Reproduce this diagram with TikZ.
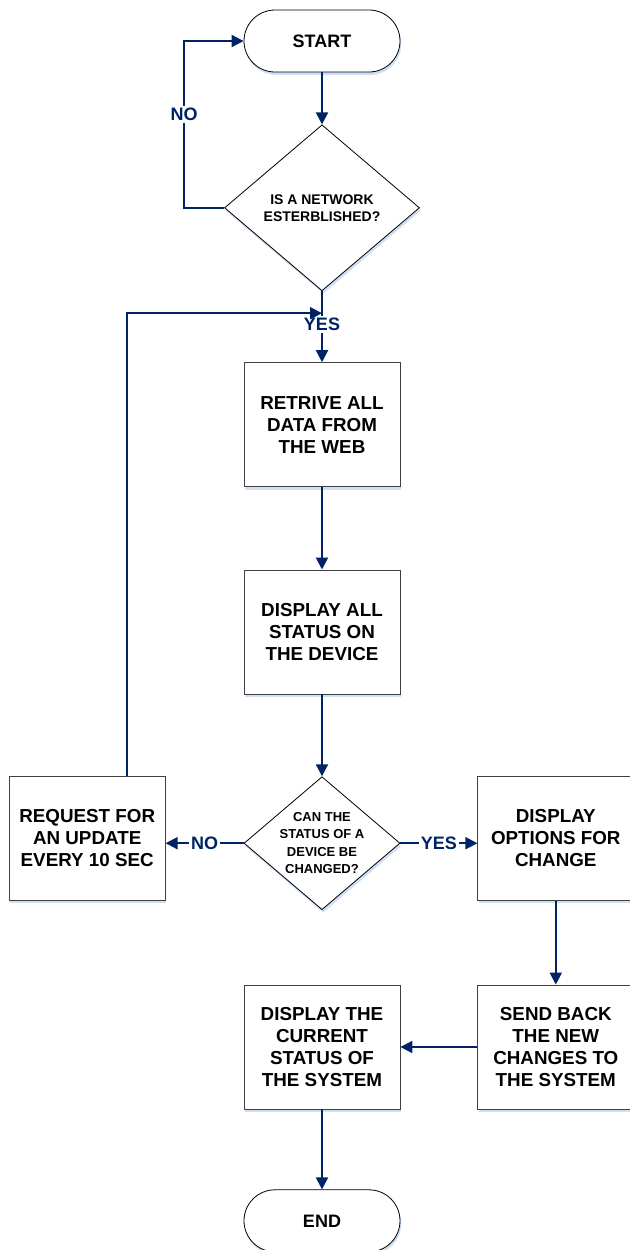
\documentclass[tikz,border=0pt]{standalone}
\usepackage{fontspec}
\setmainfont{Liberation Sans}
\usepackage{tikz}
\usetikzlibrary{shapes.geometric, arrows.meta, positioning, calc, shadows}
\usepackage{xcolor}
\definecolor{flowblue}{RGB}{0,35,102}
\definecolor{shadowblue}{RGB}{208,224,244}
\tikzstyle{terminal} = [rectangle, rounded corners=15.5pt, minimum width=78pt, minimum height=31pt, text centered, draw=black, fill=white, font=\bfseries\fontsize{9}{11}\selectfont, drop shadow={shadow xshift=0.6pt, shadow yshift=-1.5pt, fill=shadowblue, opacity=1}]
\tikzstyle{process} = [rectangle, minimum width=78pt, minimum height=62pt, align=center, draw=black!75, fill=white, font=\bfseries\fontsize{9.4}{11}\selectfont, drop shadow={shadow xshift=0.6pt, shadow yshift=-1.5pt, fill=shadowblue, opacity=1}]
\tikzstyle{decision} = [diamond, inner sep=0pt, align=center, draw=black, fill=white, font=\bfseries\fontsize{7}{8.5}\selectfont, drop shadow={shadow xshift=0.6pt, shadow yshift=-1.5pt, fill=shadowblue, opacity=1}]
\tikzstyle{arrow} = [line width=1pt, flowblue, -{Triangle[length=6pt,width=6pt]}]
\tikzstyle{answer} = [fill=white, inner sep=1pt, text=flowblue, font=\bfseries\fontsize{9}{11}\selectfont]

\begin{document}
\begin{tikzpicture}
    \useasboundingbox (0,0) rectangle (314.5pt,-625pt);

    \node (start) [terminal] at (161pt,-20.5pt) {START};
    \node (dec1) [decision, below=26pt of start, minimum width=97.5pt, minimum height=83pt] {IS A NETWORK\\ESTERBLISHED?};
    \node (retrieve) [process, below=35.5pt of dec1] {RETRIVE ALL\\DATA FROM\\THE WEB};
    \node (showall) [process, below=41.25pt of retrieve] {DISPLAY ALL\\STATUS ON\\THE DEVICE};
    \node (dec2) [decision, below=41pt of showall, minimum width=78pt, minimum height=66.5pt, inner sep=-3pt, font=\bfseries\fontsize{6.5}{8.7}\selectfont] {CAN THE\\STATUS OF A\\DEVICE BE\\CHANGED?};
    \node (request) [process, left=39pt of dec2, yshift=2.5pt] {REQUEST FOR\\AN UPDATE\\EVERY 10 SEC};
    \node (options) [process, right=38.5pt of dec2, yshift=2.5pt] {DISPLAY\\OPTIONS FOR\\CHANGE};
    \node (sendback) [process, below=42pt of options] {SEND BACK\\THE NEW\\CHANGES TO\\THE SYSTEM};
    \node (current) [process, left=38.5pt of sendback] {DISPLAY THE\\CURRENT\\STATUS OF\\THE SYSTEM};
    \node (finish) [terminal, below=40pt of current] {END};

    \coordinate (merge) at ([yshift=-11pt]dec1.south);

    \foreach \i/\j in {start/dec1, retrieve/showall, showall/dec2, options/sendback, current/finish} {
        \draw [arrow] (\i.south) -- (\j.north);
    }
    \draw [arrow] (sendback.west) -- (current.east);

    % answers of the two decisions
    \draw [arrow] (dec1.west) -- ++(-20pt,0) |- node[answer, pos=0.28] {NO} (start.west);
    \draw [arrow] (dec1.south) -- node[answer, pos=0.47] {YES} (retrieve.north);
    \draw [arrow] (dec2.west) -- node[answer] {NO} (dec2.west -| request.east);
    \draw [arrow] (dec2.east) -- node[answer] {YES} (dec2.east -| options.west);
    \draw [arrow] ([xshift=20pt]request.north) |- (merge);
\end{tikzpicture}
\end{document}
